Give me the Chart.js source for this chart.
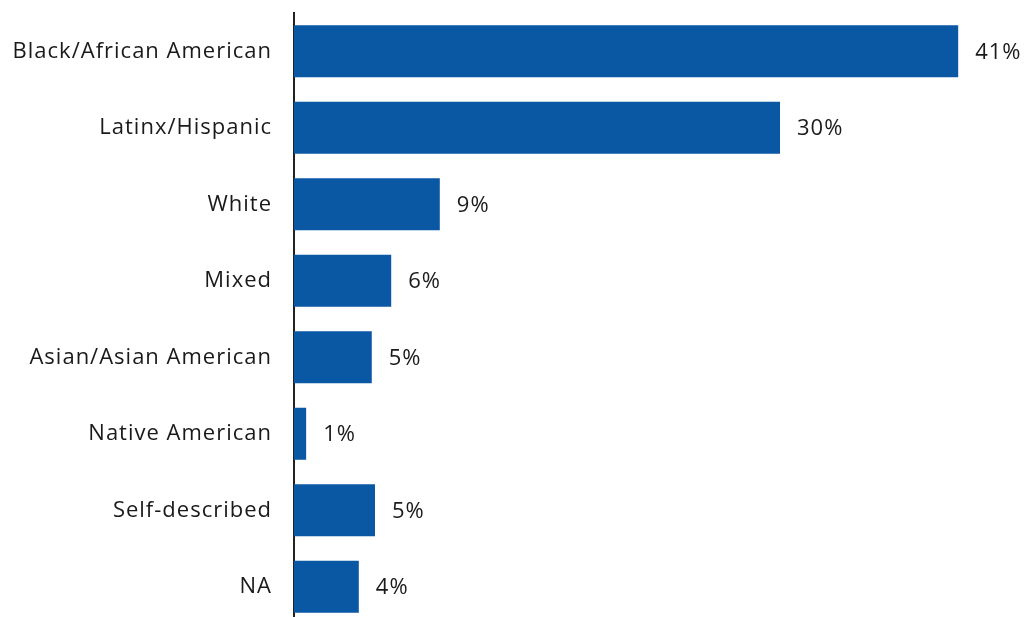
<!DOCTYPE html>
<html>
<head>
<meta charset="utf-8">
<script src="https://cdn.jsdelivr.net/npm/chart.js@4/dist/chart.umd.min.js"></script>
<style>
  html, body { margin: 0; padding: 0; background: #ffffff; overflow: hidden; }
  canvas { display: block; }
</style>
</head>
<body>
<canvas id="c" width="1028" height="625"></canvas>
<script>
const categories = ["Black/African American", "Latinx/Hispanic", "White", "Mixed", "Asian/Asian American", "Native American", "Self-described", "NA"];
const values = [41, 30, 9, 6, 4.8, 0.75, 5, 4];
const valueLabels = ["41%", "30%", "9%", "6%", "5%", "1%", "5%", "4%"];

const FONT = "'Open Sans', Lato, sans-serif";

const spacingPlugin = {
  id: 'spacing',
  beforeDraw(chart) {
    chart.ctx.letterSpacing = '1px';
  }
};

const valueLabelPlugin = {
  id: 'valueLabels',
  afterDatasetsDraw(chart) {
    const ctx = chart.ctx;
    const meta = chart.getDatasetMeta(0);
    ctx.save();
    ctx.letterSpacing = '1px';
    ctx.font = "22px " + FONT;
    ctx.fillStyle = "#1a1a1a";
    ctx.textAlign = "left";
    ctx.textBaseline = "middle";
    meta.data.forEach((bar, i) => {
      ctx.fillText(valueLabels[i], bar.x + 17, bar.y + 1);
    });
    ctx.restore();
  }
};

new Chart(document.getElementById('c'), {
  type: 'bar',
  data: {
    labels: categories,
    datasets: [{
      data: values,
      backgroundColor: '#0A57A4',
      borderWidth: 0,
      categoryPercentage: 1.0,
      barPercentage: 0.68
    }]
  },
  options: {
    indexAxis: 'y',
    responsive: false,
    animation: false,
    layout: { padding: { top: 13, right: 5, left: 0, bottom: 0 } },
    plugins: { legend: { display: false }, tooltip: { enabled: false }, title: { display: false } },
    scales: {
      x: {
        display: false,
        min: 0,
        max: 45
      },
      y: {
        position: 'left',
        afterFit(scale) {
          scale.width = 294;
          scale.paddingTop = 0;
          scale.paddingBottom = 0;
        },
        grid: { display: false, drawTicks: false },
        border: { display: true, color: '#222222', width: 2 },
        ticks: {
          crossAlign: 'near',
          padding: 22,
          color: '#1a1a1a',
          font: { family: FONT, size: 22 }
        }
      }
    }
  },
  plugins: [spacingPlugin, valueLabelPlugin]
});
</script>
</body>
</html>
